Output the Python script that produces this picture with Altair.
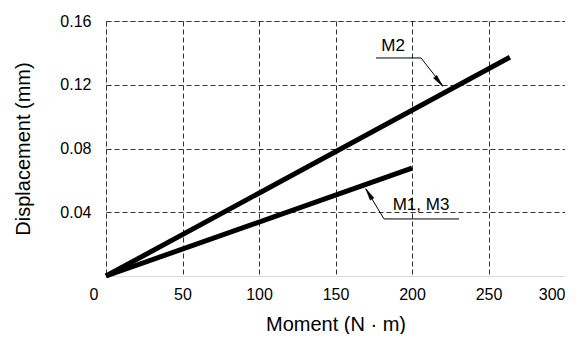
import altair as alt
import pandas as pd

# Series
m2_x = [0, 264]
m2_y = [0, 0.1373]
m13_x = [0, 200]
m13_y = [0, 0.0677]

x_ticks = [0, 50, 100, 150, 200, 250, 300]
y_ticks = [0.04, 0.08, 0.12, 0.16]

# Annotation labels and leaders (data coordinates)
ann_text = ["M2", "M1, M3"]
ann_tx = [187.6, 205.9]
ann_ty = [0.1443, 0.0445]
# horizontal part of leader
lead_h_x1 = [176.5, 230.7]
lead_h_x2 = [205.9, 181.7]
lead_h_y = [0.1368, 0.0358]
# diagonal part to arrow tip
tip_x = [220.3, 169.9]
tip_y = [0.1192, 0.0546]
head_x = [217.6, 171.8]
head_y = [0.1220, 0.0516]
head_angle = [142, 329]

lines = pd.DataFrame(
    {"x": m2_x + m13_x,
     "y": m2_y + m13_y,
     "s": ["M2"] * len(m2_x) + ["M1, M3"] * len(m13_x)}
)
ann = pd.DataFrame({
    "t": ann_text, "tx": ann_tx, "ty": ann_ty,
    "hx1": lead_h_x1, "hx2": lead_h_x2, "hy": lead_h_y,
    "px": tip_x, "py": tip_y, "ax": head_x, "ay": head_y, "ang": head_angle,
})

FONT = "Liberation Sans"
xs = alt.Scale(domain=[0, 300], nice=False)
ys = alt.Scale(domain=[0, 0.16], nice=False)

base_lines = alt.Chart(lines).mark_line(color="black", strokeWidth=5, strokeCap="butt").encode(
    x=alt.X("x:Q", scale=xs, title="Moment (N · m)",
            axis=alt.Axis(values=x_ticks, ticks=False, domain=False, labelPadding=10,
                          titlePadding=12, labelFontSize=16, titleFontSize=20,
                          labelOffset=alt.expr("datum.value == 0 ? -17 : 0"),
                          gridDash=[5, 3], gridColor="#333", gridWidth=1, gridOpacity=1,
                          labelColor="black", titleColor="black", titleFontWeight="normal",
                          labelFont=FONT, titleFont=FONT)),
    y=alt.Y("y:Q", scale=ys, title="Displacement (mm)",
            axis=alt.Axis(values=y_ticks, format=".2f", ticks=False, domain=False,
                          labelPadding=15, titlePadding=26, labelFontSize=16, titleFontSize=20,
                          gridDash=[5, 3], gridColor="#333", gridWidth=1, gridOpacity=1,
                          labelColor="black", titleColor="black", titleFontWeight="normal",
                          labelFont=FONT, titleFont=FONT)),
    detail="s:N",
)

lead_h = alt.Chart(ann).mark_rule(color="black", strokeWidth=1).encode(
    x=alt.X("hx1:Q", scale=xs), x2="hx2:Q", y=alt.Y("hy:Q", scale=ys), y2="hy:Q")
lead_d = alt.Chart(ann).mark_rule(color="black", strokeWidth=1).encode(
    x=alt.X("hx2:Q", scale=xs), x2="px:Q", y=alt.Y("hy:Q", scale=ys), y2="py:Q")
heads = alt.Chart(ann).mark_point(
    shape="M0,-1L0.35,1L-0.35,1Z", filled=True, fill="black", stroke="black",
    strokeWidth=0.5, size=150, opacity=1
).encode(x=alt.X("ax:Q", scale=xs), y=alt.Y("ay:Q", scale=ys),
         angle=alt.Angle("ang:Q", scale=None))
labels = alt.Chart(ann).mark_text(font=FONT, fontSize=17, color="black").encode(
    x=alt.X("tx:Q", scale=xs), y=alt.Y("ty:Q", scale=ys), text="t:N")

chart = alt.layer(base_lines, lead_h, lead_d, heads, labels).properties(
    width=459, height=255,
    padding={"left": 5, "top": 5, "right": 0, "bottom": 0},
).configure_view(stroke="black", strokeWidth=2.5).configure(background="white")

chart.save("out.html", embed_options={"renderer": "svg", "actions": False})
